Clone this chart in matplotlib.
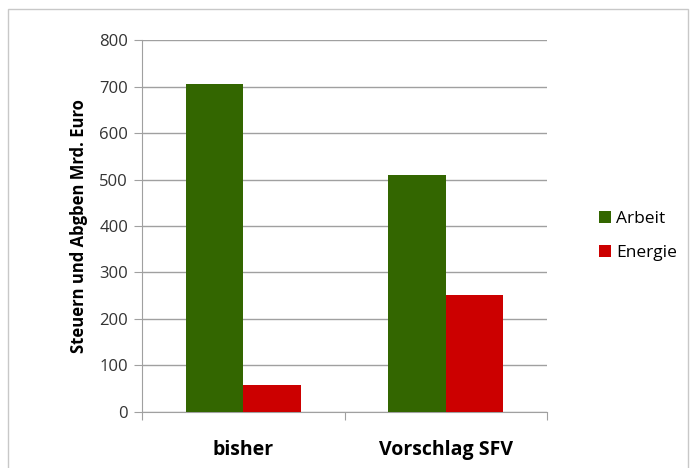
import matplotlib
matplotlib.use("Agg")
import matplotlib.pyplot as plt
from matplotlib.patches import Rectangle
import numpy as np

categories = ["bisher", "Vorschlag SFV"]
arbeit = [705, 510]
energie = [57, 251]
series_names = ["Arbeit", "Energie"]
yticks = [0, 100, 200, 300, 400, 500, 600, 700, 800]

green = "#336600"
red = "#cc0000"
grid_col = "#a0a0a0"

plt.rcParams["font.family"] = ["Open Sans", "DejaVu Sans"]

fig = plt.figure(figsize=(6.94, 4.68), dpi=100)
ax = fig.add_axes([0.2046, 0.1197, 0.5836, 0.7948])

x = np.arange(len(categories))
w = 0.283
ax.bar(x - w / 2, arbeit, width=w, color=green, label=series_names[0], zorder=3)
ax.bar(x + w / 2, energie, width=w, color=red, label=series_names[1], zorder=3)

ax.set_xlim(-0.5, 1.5)
ax.set_ylim(0, 800)
ax.set_yticks(yticks)
ax.set_yticklabels([str(v) for v in yticks], fontsize=12, color="#333333")
ax.yaxis.grid(True, color=grid_col, linewidth=1.0, zorder=0)
ax.set_axisbelow(True)

ax.set_xticks([-0.5, 0.5, 1.5])
ax.set_xticklabels([])
ax.set_xticks(x, minor=True)
ax.set_xticklabels(categories, minor=True, fontsize=14, fontweight="bold")
ax.tick_params(axis="x", which="minor", length=0, pad=20)
ax.tick_params(axis="x", which="major", length=6, color=grid_col, direction="out")
ax.tick_params(axis="y", length=6, color=grid_col, direction="out", pad=4)

for s in ["top", "right"]:
    ax.spines[s].set_visible(False)
for s in ["left", "bottom"]:
    ax.spines[s].set_color(grid_col)

ax.set_ylabel("Steuern und Abgben Mrd. Euro", fontsize=12, fontweight="bold", labelpad=8)

ax.legend(loc="center left", bbox_to_anchor=(1.09, 0.473), frameon=False,
          fontsize=12.5, handlelength=0.7, handleheight=0.7, handletextpad=0.3,
          labelspacing=1.05)

fig.patches.append(Rectangle((8 / 694, -0.05), 680 / 694, 1.05 - 9 / 468,
                             transform=fig.transFigure, fill=False,
                             edgecolor="#c8c8c8", linewidth=1.0))

fig.savefig("out.png", dpi=100)
